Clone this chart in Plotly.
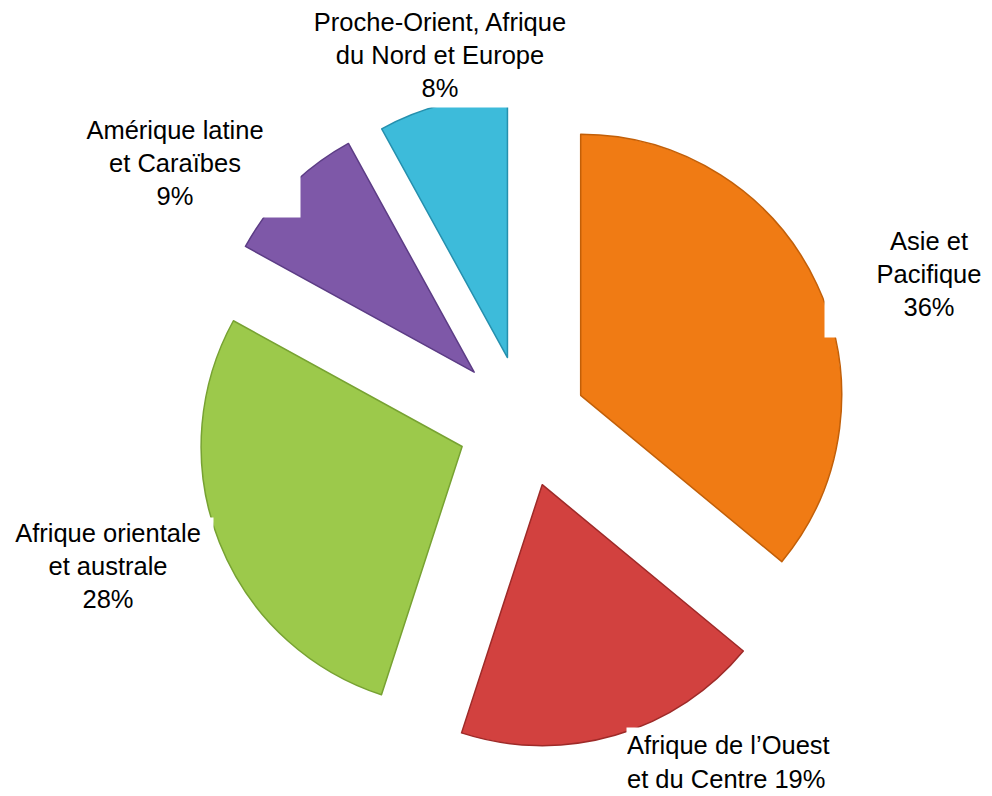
import plotly.graph_objects as go

# ---- data ----
categories = [
    "Asie et Pacifique",
    "Afrique de l’Ouest et du Centre",
    "Afrique orientale et australe",
    "Amérique latine et Caraïbes",
    "Proche-Orient, Afrique du Nord et Europe",
]
shares = [36, 19, 28, 9, 8]
label_templates = [
    "Asie et<br>Pacifique<br>{p}%",
    "Afrique de l’Ouest<br>et du Centre {p}%",
    "Afrique orientale<br>et australe<br>{p}%",
    "Amérique latine<br>et Caraïbes<br>{p}%",
    "Proche-Orient, Afrique<br>du Nord et Europe<br>{p}%",
]

# ---- style ----
colors = ["#F07B14", "#D2413F", "#9CC94B", "#7E58A8", "#3DBBDA"]
edge_colors = ["#C25F08", "#9E2A28", "#77A232", "#5C3C85", "#2590AE"]
pulls = [0.24, 0.25, 0.255, 0.27, 0.255]

W, H = 992, 796
cx, cy, R = 524, 422, 261
half = R * (1 + max(pulls))
domain_x = [(cx - half) / W, (cx + half) / W]
domain_y = [1 - (cy + half) / H, 1 - (cy - half) / H]

fig = go.Figure(
    go.Pie(
        labels=categories,
        values=shares,
        sort=False,
        direction="clockwise",
        rotation=0,
        pull=pulls,
        textinfo="none",
        hoverinfo="label+percent",
        marker=dict(colors=colors, line=dict(color=edge_colors, width=1.5)),
        domain=dict(x=domain_x, y=domain_y),
        showlegend=False,
    )
)

# label boxes: (x, y, xanchor, yanchor, width, height, align) in pixels
label_boxes = [
    (929, 274, "center", "middle", 208, 126, "center"),
    (626, 727, "left", "top", 240, 68, "left"),
    (108, 566, "center", "middle", 210, 96, "center"),
    (175, 163, "center", "middle", 250, 108, "center"),
    (440, 55, "center", "middle", 290, 104, "center"),
]

annotations = []
for tmpl, p, (px, py, xa, ya, bw, bh, al) in zip(label_templates, shares, label_boxes):
    annotations.append(
        dict(
            text=tmpl.format(p=p),
            x=px / W,
            y=1 - py / H,
            xref="paper",
            yref="paper",
            xanchor=xa,
            yanchor=ya,
            width=bw,
            height=bh,
            align=al,
            valign="middle",
            showarrow=False,
            bgcolor="white",
            borderpad=0,
            font=dict(family="Liberation Sans, Arial, sans-serif", size=25.5, color="black"),
        )
    )

fig.update_layout(
    width=W,
    height=H,
    margin=dict(l=0, r=0, t=0, b=0),
    paper_bgcolor="white",
    plot_bgcolor="white",
    annotations=annotations,
)

fig.write_html(
    "out.html",
    config={"displayModeBar": False},
    post_script="document.body.style.margin='0';document.body.style.overflow='hidden';",
)
